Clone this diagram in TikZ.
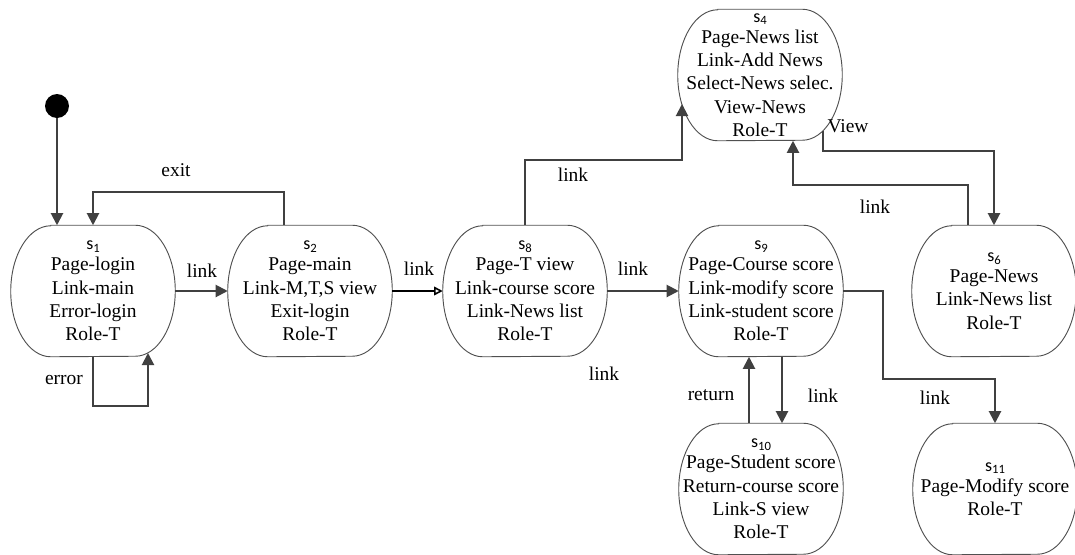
\documentclass[tikz,border=0pt]{standalone}
\usepackage{fontspec}
\setmainfont{Liberation Serif}
\newfontfamily\tnr{Liberation Serif}
\newfontfamily\sfcal{Carlito}
\usetikzlibrary{arrows.meta,calc}
\definecolor{edgegray}{HTML}{404040}
\definecolor{boxgray}{HTML}{505050}
\newcommand\sname[1]{{\sfcal\fontsize{13.5}{13.5}\selectfont s\raisebox{-0.3ex}{\fontsize{9.5}{9.5}\selectfont #1}}\\[-1.8pt]}
\newcommand\stateoutline[1]{%
  \draw[stateline] ([xshift=30pt]#1.north west) -- ([xshift=-30pt]#1.north east)
    arc[start angle=90,end angle=-90,x radius=30pt,y radius=49.125pt]
    -- ([xshift=30pt]#1.south west)
    arc[start angle=270,end angle=90,x radius=30pt,y radius=49.125pt] -- cycle;}
\begin{document}
\begin{tikzpicture}[x=0.75pt,y=-0.75pt,
  statebox/.style={draw=none,minimum width=123pt,minimum height=98.25pt,inner sep=0pt,
    align=center,font=\tnr\fontsize{14.6}{17.5}\selectfont},
  stateline/.style={draw=boxgray,line width=0.7pt},
  conn/.style={draw=edgegray,line width=1.5pt,-{Triangle[length=9pt,width=9pt]}},
  openconn/.style={draw=black,line width=1.5pt,-{Triangle[open,length=6.5pt,width=6.5pt,line width=1.2pt]}},
  lbl/.style={font=\tnr\fontsize{14.6}{17.5}\selectfont,inner sep=0pt},
  initdot/.style={circle,fill=black,minimum size=18pt,inner sep=0pt}]
\useasboundingbox (0,0) rectangle (1075,554);

% states
\node[statebox] (s1) at (93,291) {\sname{1}Page-login\\Link-main\\Error-login\\Role-T};
\node[statebox] (s2) at (310,291) {\sname{2}Page-main\\Link-M,T,S view\\Exit-login\\Role-T};
\node[statebox] (s8) at (525,291) {\sname{8}Page-T view\\Link-course score\\Link-News list\\Role-T};
\node[statebox] (s9) at (761,291) {\sname{9}Page-Course score\\Link-modify score\\Link-student score\\Role-T};
\node[statebox] (s4) at (760,75) {\sname{4}Page-News list\\Link-Add News\\Select-News selec.\\View-News\\Role-T};
\node[statebox] (s6) at (994,291) {\sname{6}Page-News\\Link-News list\\Role-T};
\node[statebox] (s10) at (761,489) {\sname{10}Page-Student score\\Return-course score\\Link-S view\\Role-T};
\node[statebox] (s11) at (995,489) {\sname{11}Page-Modify score\\Role-T};
\foreach \n in {s1,s2,s8,s9,s4,s6,s10,s11} {\stateoutline{\n}}

\node[initdot] (init) at (57,106) {};

% connectors
\draw[conn] (init) -- (init |- s1.north);
\draw[conn] ($(s2.north)+(-26,0)$) -- ++(0,-33) -| (s1.north);
\draw[conn] (s1.east) -- (s2.west);
\coordinate (errend) at ($(s1.center)+(55,62)$);
\draw[conn] (s1.south) -- ++(0,49) -| (errend);
\draw[openconn] (s2.east) -- (s8.west);
\coordinate (s4in) at ($(s4.center)+(-78,29)$);
\draw[conn] (s8.north) -- ++(0,-65) -| (s4in);
\draw[conn] (s8.east) -- (s9.west);
\coordinate (s6out) at ($(s6.north)+(-26,0)$);
\draw[conn] (s6out) -- ++(0,-40) -| ($(s4.south)+(33,0)$);
\coordinate (s4out) at ($(s4.center)+(63,56)$);
\draw[conn] (s4out) -- ++(0,20) -| (s6.north);
\draw[conn] (s9.east) -- ++(40,0) |- ($(s11.north)+(0,-44)$) -- (s11.north);
\draw[conn] ($(s9.south)+(21,0)$) -- ($(s10.north)+(21,0)$);
\draw[conn] ($(s10.north)+(-12,0)$) -- ($(s9.south)+(-12,0)$);

% labels
\node[lbl] (l1) at (202,271) {link};
\node[lbl] (lexit) at (176,170) {exit};
\node[lbl] (lerr) at (64,380) {error};
\node[lbl] (l2) at (419,269) {link};
\node[lbl] (l3) at (573,175) {link};
\node[lbl] (l4) at (633,269) {link};
\node[lbl] (lview) at (848,126) {View};
\node[lbl] (l5) at (875,207) {link};
\node[lbl] (l6) at (604,374) {link};
\node[lbl] (lret) at (711,395) {return};
\node[lbl] (l7) at (823,396) {link};
\node[lbl] (l8) at (935,398) {link};
\end{tikzpicture}
\end{document}
